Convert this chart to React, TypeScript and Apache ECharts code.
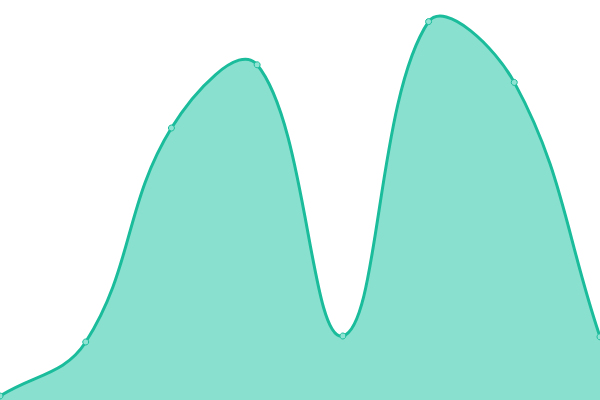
import { useEffect, useRef } from 'react';
import * as echarts from 'echarts';

const categories = ['1', '2', '3', '4', '5', '6', '7', '8'];
const values = [1, 14.5, 68, 83.8, 16, 94.6, 79.4, 15.8];

const LINE_COLOR = '#1abc9c';
const AREA_COLOR = '#8ae0cf';
const TENSION = 0.4;

type Pt = { x: number; y: number };

// cardinal spline control points (same idea as a tension-based line), with overshoot allowed
function controlPoints(prev: Pt, cur: Pt, next: Pt, t: number) {
  const d01 = Math.hypot(cur.x - prev.x, cur.y - prev.y);
  const d12 = Math.hypot(next.x - cur.x, next.y - cur.y);
  let s01 = d01 / (d01 + d12);
  let s12 = d12 / (d01 + d12);
  if (isNaN(s01)) s01 = 0;
  if (isNaN(s12)) s12 = 0;
  const fa = t * s01;
  const fb = t * s12;
  return {
    prev: { x: cur.x - fa * (next.x - prev.x), y: cur.y - fa * (next.y - prev.y) },
    next: { x: cur.x + fb * (next.x - prev.x), y: cur.y + fb * (next.y - prev.y) },
  };
}

export default function App() {
  const chartRef = useRef<HTMLDivElement>(null);

  useEffect(() => {
    if (!chartRef.current) return;
    const chart = echarts.init(chartRef.current, null, { renderer: 'svg' });

    const renderCurve = (params: any, api: any) => {
      if (params.dataIndex !== 0) return null;
      const area = params.coordSys as { x: number; y: number; width: number; height: number };
      const clampX = (v: number) => Math.max(area.x, Math.min(area.x + area.width, v));
      const clampY = (v: number) => Math.max(area.y, Math.min(area.y + area.height, v));

      const pts: Pt[] = values.map((v, i) => {
        const c = api.coord([i, v]);
        return { x: c[0], y: c[1] };
      });
      const cps = pts.map((p, i) => {
        const prev = pts[Math.max(0, i - 1)];
        const next = pts[Math.min(pts.length - 1, i + 1)];
        const cp = controlPoints(prev, p, next, TENSION);
        return {
          prev: { x: clampX(cp.prev.x), y: clampY(cp.prev.y) },
          next: { x: clampX(cp.next.x), y: clampY(cp.next.y) },
        };
      });

      let d = `M${pts[0].x},${pts[0].y}`;
      for (let i = 1; i < pts.length; i++) {
        const a = cps[i - 1].next;
        const b = cps[i].prev;
        d += ` C${a.x},${a.y} ${b.x},${b.y} ${pts[i].x},${pts[i].y}`;
      }
      const base0 = api.coord([0, 0]);
      const baseN = api.coord([pts.length - 1, 0]);
      const areaD = `${d} L${baseN[0]},${baseN[1]} L${base0[0]},${base0[1]} Z`;

      return {
        type: 'group',
        children: [
          { type: 'path', shape: { pathData: areaD }, style: { fill: AREA_COLOR, stroke: 'none' } },
          { type: 'path', shape: { pathData: d }, style: { fill: 'none', stroke: LINE_COLOR, lineWidth: 3 } },
        ],
      };
    };

    const option: echarts.EChartsOption = {
      animation: false,
      grid: { left: 0, right: 0, top: 0, bottom: 0 },
      xAxis: {
        type: 'category',
        data: categories,
        boundaryGap: false,
        show: false,
      },
      yAxis: {
        type: 'value',
        min: 0,
        max: 100,
        show: false,
      },
      series: [
        {
          type: 'custom',
          data: values,
          renderItem: renderCurve as any,
          z: 1,
        },
        {
          type: 'scatter',
          data: values,
          symbol: 'circle',
          symbolSize: 6,
          itemStyle: { color: '#8fe3d2', borderColor: LINE_COLOR, borderWidth: 1, opacity: 1 },
          z: 2,
        },
      ],
    };

    chart.setOption(option);
    return () => chart.dispose();
  }, []);

  return (
    <div
      ref={chartRef}
      style={{ position: 'fixed', left: 0, top: 0, width: '600px', height: '400px', background: '#fff' }}
    />
  );
}
